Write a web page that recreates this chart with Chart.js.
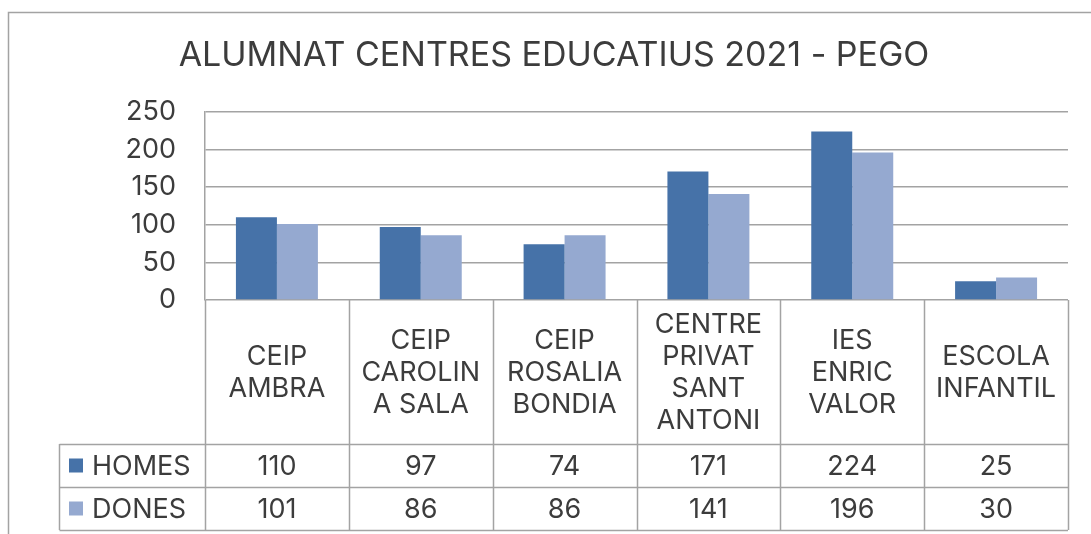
<!DOCTYPE html>
<html>
<head>
<meta charset="utf-8">
<script src="https://cdn.jsdelivr.net/npm/chart.js@4/dist/chart.umd.min.js"></script>
<style>
    html, body { margin: 0; padding: 0; background: #fff; }
</style>
</head>
<body>
<canvas id="graphique" width="1091" height="534"></canvas>
<script>
// Données
const titre = "ALUMNAT CENTRES EDUCATIUS 2021 - PEGO";
const centres = [
    ["CEIP", "AMBRA"],
    ["CEIP", "CAROLIN", "A SALA"],
    ["CEIP", "ROSALIA", "BONDIA"],
    ["CENTRE", "PRIVAT", "SANT", "ANTONI"],
    ["IES", "ENRIC", "VALOR"],
    ["ESCOLA", "INFANTIL"]
];
const homes = [110, 97, 74, 171, 224, 25];
const dones = [101, 86, 86, 141, 196, 30];
const series = ["HOMES", "DONES"];
const ticksY = [0, 50, 100, 150, 200, 250];

const couleurs = ["#4672a8", "#95a9d0"];
const gris = "#a3a3a3";
const texte = "#3c3c3c";
const police = "Inter, 'DejaVu Sans', sans-serif";

// === Tableau de données sous le graphique ===
const tableau = {
    id: "tableau",
    beforeDraw(chart) {
        const ctx = chart.ctx;
        ctx.save();
        ctx.strokeStyle = gris;
        ctx.lineWidth = 1.5;
        ctx.beginPath();
        ctx.moveTo(8.5, chart.height);
        ctx.lineTo(8.5, 12.5);
        ctx.lineTo(chart.width, 12.5);
        ctx.stroke();

        ctx.fillStyle = texte;
        ctx.font = "34px " + police;
        ctx.textAlign = "center";
        ctx.textBaseline = "middle";
        ctx.fillText(titre, 554, 56);
        ctx.restore();
    },
    afterDraw(chart) {
        const { ctx, chartArea: a, scales: { x } } = chart;
        const n = centres.length;
        const w = (a.right - a.left) / n;
        const y0 = a.bottom, y1 = y0 + 144, y2 = y1 + 43, y3 = y2 + 43;
        const gauche = 59.5;

        ctx.save();
        ctx.strokeStyle = gris;
        ctx.lineWidth = 1.5;
        ctx.beginPath();
        for (let i = 0; i <= n; i++) {
            const xx = Math.round(x.getPixelForValue(i) - w / 2) + 0.5;
            ctx.moveTo(xx, y0);
            ctx.lineTo(xx, y3);
        }
        ctx.moveTo(gauche, y1); ctx.lineTo(gauche, y3);
        [y1, y2, y3].forEach(yy => {
            ctx.moveTo(gauche, Math.round(yy) + 0.5);
            ctx.lineTo(a.right, Math.round(yy) + 0.5);
        });
        ctx.stroke();

        ctx.fillStyle = texte;
        ctx.font = "27px " + police;
        ctx.textAlign = "center";
        ctx.textBaseline = "middle";
        const hl = 32;
        centres.forEach((lignes, i) => {
            const cx = x.getPixelForValue(i);
            const cy = (y0 + y1) / 2 - (lignes.length - 1) * hl / 2;
            lignes.forEach((l, k) => ctx.fillText(l, cx, cy + k * hl + 1));
        });

        const valeurs = [homes, dones];
        const lignesY = [(y1 + y2) / 2, (y2 + y3) / 2];
        valeurs.forEach((vals, s) => {
            vals.forEach((v, i) => {
                ctx.fillText(String(v), x.getPixelForValue(i), lignesY[s] + 1);
            });
            ctx.fillStyle = couleurs[s];
            ctx.fillRect(69, lignesY[s] - 7, 14, 14);
            ctx.fillStyle = texte;
            ctx.textAlign = "left";
            ctx.fillText(series[s], 92, lignesY[s] + 1);
            ctx.textAlign = "center";
        });
        ctx.restore();
    }
};

new Chart(document.getElementById("graphique"), {
    type: "bar",
    data: {
        labels: centres,
        datasets: [
            { label: series[0], data: homes, backgroundColor: couleurs[0] },
            { label: series[1], data: dones, backgroundColor: couleurs[1] }
        ]
    },
    options: {
        responsive: false,
        animation: false,
        layout: { padding: { top: 112, bottom: 234, left: 0, right: 23 } },
        datasets: { bar: { categoryPercentage: 0.57, barPercentage: 1.0, borderWidth: 0 } },
        plugins: {
            legend: { display: false },
            title: { display: false },
            tooltip: { enabled: false }
        },
        scales: {
            x: { display: false },
            y: {
                min: 0,
                max: 250,
                afterFit: s => { s.width = 205; },
                afterBuildTicks: s => { s.ticks = ticksY.map(v => ({ value: v })); },
                grid: { color: gris, lineWidth: 1.5, drawTicks: false },
                border: { display: true, color: gris, width: 1.5 },
                ticks: {
                    padding: 29,
                    color: texte,
                    font: { family: police, size: 27 }
                }
            }
        }
    },
    plugins: [tableau]
});
</script>
</body>
</html>
